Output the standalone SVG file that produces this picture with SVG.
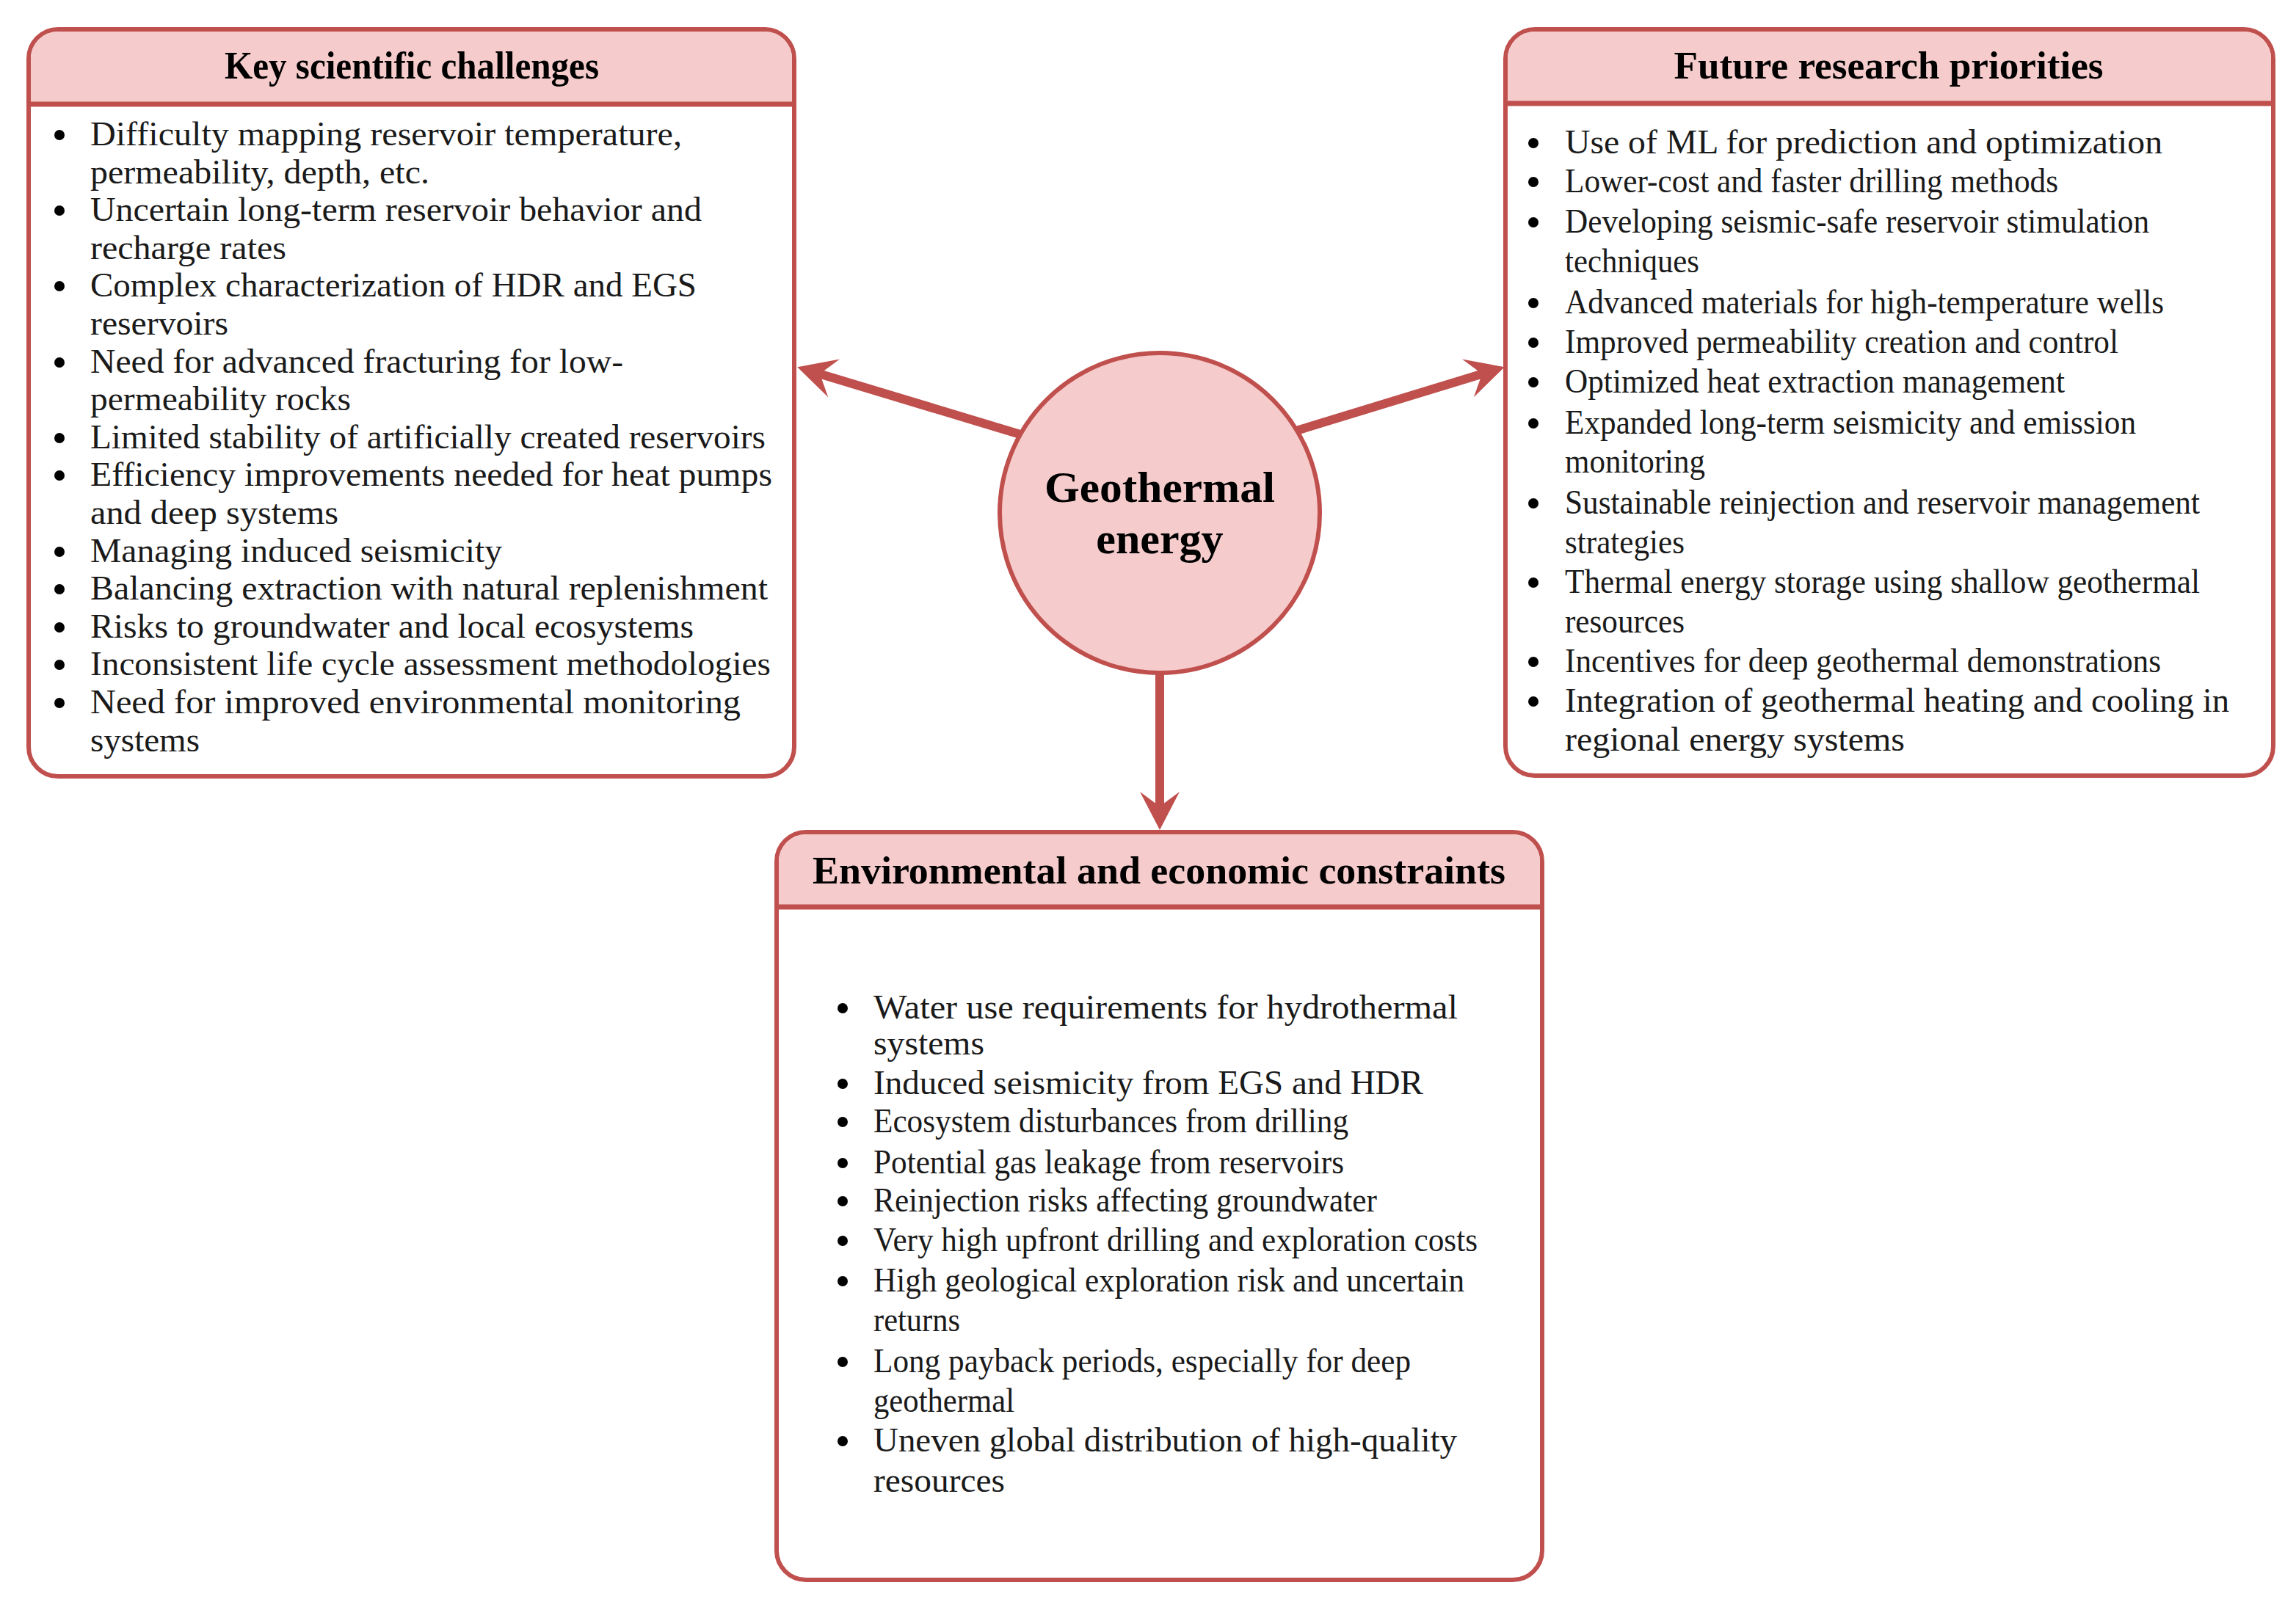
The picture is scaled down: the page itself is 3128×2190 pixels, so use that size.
<svg xmlns="http://www.w3.org/2000/svg" width="3128" height="2190" viewBox="0 0 3128 2190">
<style>
.frame{fill:#FFFFFF;stroke:#C0504D;stroke-width:6}
.head{fill:#F5CBCB;stroke:none}
.sep{stroke:#C0504D;stroke-width:7}
.title{font-family:"Liberation Serif","Times New Roman",serif;font-weight:bold;font-size:52px;fill:#000;text-anchor:middle}
.item{font-family:"Liberation Serif","Times New Roman",serif;font-size:46px;fill:#1a1a1a}
.dot{fill:#000}
.hub{fill:#F5CBCB;stroke:#C0504D;stroke-width:6}
.hubtext{font-family:"Liberation Serif","Times New Roman",serif;font-weight:bold;font-size:60px;fill:#000;text-anchor:middle}
.conn{stroke:#C0504D;stroke-width:12;fill:none;marker-end:url(#ah)}
</style>
<defs>
<marker id="ah" markerUnits="userSpaceOnUse" markerWidth="60" markerHeight="60" viewBox="0 -30 56 60" refX="22" refY="0" orient="auto">
<path d="M52,0 L0,-27 L20,0 L0,27 Z" fill="#C0504D"/>
</marker>
</defs>
<rect width="3128" height="2190" fill="#FFFFFF"/>

<g id="node-key-challenges">
<rect class="frame" x="39" y="40" width="1043" height="1018" rx="40"/>
<path class="head" d="M42,142 L42,80 A37,37 0 0 1 79,43 L1042,43 A37,37 0 0 1 1079,80 L1079,142 Z"/>
<line class="sep" x1="39" y1="142" x2="1082" y2="142"/>
<text class="title" x="561" y="107" textLength="510" lengthAdjust="spacingAndGlyphs">Key scientific challenges</text>
<circle class="dot" cx="81" cy="184" r="7"/>
<text class="item" x="123" y="198" textLength="806" lengthAdjust="spacingAndGlyphs">Difficulty mapping reservoir temperature,</text>
<text class="item" x="123" y="250" textLength="462" lengthAdjust="spacingAndGlyphs">permeability, depth, etc.</text>
<circle class="dot" cx="81" cy="287" r="7"/>
<text class="item" x="123" y="301" textLength="833" lengthAdjust="spacingAndGlyphs">Uncertain long-term reservoir behavior and</text>
<text class="item" x="123" y="353" textLength="267" lengthAdjust="spacingAndGlyphs">recharge rates</text>
<circle class="dot" cx="81" cy="390" r="7"/>
<text class="item" x="123" y="404" textLength="826" lengthAdjust="spacingAndGlyphs">Complex characterization of HDR and EGS</text>
<text class="item" x="123" y="456" textLength="188" lengthAdjust="spacingAndGlyphs">reservoirs</text>
<circle class="dot" cx="81" cy="494" r="7"/>
<text class="item" x="123" y="508" textLength="726" lengthAdjust="spacingAndGlyphs">Need for advanced fracturing for low-</text>
<text class="item" x="123" y="559" textLength="355" lengthAdjust="spacingAndGlyphs">permeability rocks</text>
<circle class="dot" cx="81" cy="597" r="7"/>
<text class="item" x="123" y="611" textLength="920" lengthAdjust="spacingAndGlyphs">Limited stability of artificially created reservoirs</text>
<circle class="dot" cx="81" cy="648" r="7"/>
<text class="item" x="123" y="662" textLength="929" lengthAdjust="spacingAndGlyphs">Efficiency improvements needed for heat pumps</text>
<text class="item" x="123" y="714" textLength="338" lengthAdjust="spacingAndGlyphs">and deep systems</text>
<circle class="dot" cx="81" cy="752" r="7"/>
<text class="item" x="123" y="766" textLength="561" lengthAdjust="spacingAndGlyphs">Managing induced seismicity</text>
<circle class="dot" cx="81" cy="803" r="7"/>
<text class="item" x="123" y="817" textLength="923" lengthAdjust="spacingAndGlyphs">Balancing extraction with natural replenishment</text>
<circle class="dot" cx="81" cy="855" r="7"/>
<text class="item" x="123" y="869" textLength="822" lengthAdjust="spacingAndGlyphs">Risks to groundwater and local ecosystems</text>
<circle class="dot" cx="81" cy="906" r="7"/>
<text class="item" x="123" y="920" textLength="927" lengthAdjust="spacingAndGlyphs">Inconsistent life cycle assessment methodologies</text>
<circle class="dot" cx="81" cy="958" r="7"/>
<text class="item" x="123" y="972" textLength="886" lengthAdjust="spacingAndGlyphs">Need for improved environmental monitoring</text>
<text class="item" x="123" y="1024" textLength="149" lengthAdjust="spacingAndGlyphs">systems</text>
</g>

<g id="node-future-priorities">
<rect class="frame" x="2051" y="40" width="1046" height="1017" rx="40"/>
<path class="head" d="M2054,141 L2054,80 A37,37 0 0 1 2091,43 L3057,43 A37,37 0 0 1 3094,80 L3094,141 Z"/>
<line class="sep" x1="2051" y1="141" x2="3097" y2="141"/>
<text class="title" x="2573" y="107" textLength="585" lengthAdjust="spacingAndGlyphs">Future research priorities</text>
<circle class="dot" cx="2089" cy="195" r="7"/>
<text class="item" x="2132" y="209" textLength="814" lengthAdjust="spacingAndGlyphs">Use of ML for prediction and optimization</text>
<circle class="dot" cx="2089" cy="248" r="7"/>
<text class="item" x="2132" y="262" textLength="672" lengthAdjust="spacingAndGlyphs">Lower-cost and faster drilling methods</text>
<circle class="dot" cx="2089" cy="303" r="7"/>
<text class="item" x="2132" y="317" textLength="796" lengthAdjust="spacingAndGlyphs">Developing seismic-safe reservoir stimulation</text>
<text class="item" x="2132" y="371" textLength="183" lengthAdjust="spacingAndGlyphs">techniques</text>
<circle class="dot" cx="2089" cy="413" r="7"/>
<text class="item" x="2132" y="427" textLength="816" lengthAdjust="spacingAndGlyphs">Advanced materials for high-temperature wells</text>
<circle class="dot" cx="2089" cy="467" r="7"/>
<text class="item" x="2132" y="481" textLength="754" lengthAdjust="spacingAndGlyphs">Improved permeability creation and control</text>
<circle class="dot" cx="2089" cy="521" r="7"/>
<text class="item" x="2132" y="535" textLength="681" lengthAdjust="spacingAndGlyphs">Optimized heat extraction management</text>
<circle class="dot" cx="2089" cy="577" r="7"/>
<text class="item" x="2132" y="591" textLength="778" lengthAdjust="spacingAndGlyphs">Expanded long-term seismicity and emission</text>
<text class="item" x="2132" y="644" textLength="191" lengthAdjust="spacingAndGlyphs">monitoring</text>
<circle class="dot" cx="2089" cy="686" r="7"/>
<text class="item" x="2132" y="700" textLength="865" lengthAdjust="spacingAndGlyphs">Sustainable reinjection and reservoir management</text>
<text class="item" x="2132" y="754" textLength="163" lengthAdjust="spacingAndGlyphs">strategies</text>
<circle class="dot" cx="2089" cy="794" r="7"/>
<text class="item" x="2132" y="808" textLength="865" lengthAdjust="spacingAndGlyphs">Thermal energy storage using shallow geothermal</text>
<text class="item" x="2132" y="862" textLength="163" lengthAdjust="spacingAndGlyphs">resources</text>
<circle class="dot" cx="2089" cy="902" r="7"/>
<text class="item" x="2132" y="916" textLength="812" lengthAdjust="spacingAndGlyphs">Incentives for deep geothermal demonstrations</text>
<circle class="dot" cx="2089" cy="956" r="7"/>
<text class="item" x="2132" y="970" textLength="905" lengthAdjust="spacingAndGlyphs">Integration of geothermal heating and cooling in</text>
<text class="item" x="2132" y="1023" textLength="463" lengthAdjust="spacingAndGlyphs">regional energy systems</text>
</g>

<g id="node-env-econ">
<rect class="frame" x="1058" y="1134" width="1043" height="1019" rx="40"/>
<path class="head" d="M1061,1236 L1061,1174 A37,37 0 0 1 1098,1137 L2061,1137 A37,37 0 0 1 2098,1174 L2098,1236 Z"/>
<line class="sep" x1="1058" y1="1236" x2="2101" y2="1236"/>
<text class="title" x="1579" y="1204" textLength="944" lengthAdjust="spacingAndGlyphs">Environmental and economic constraints</text>
<circle class="dot" cx="1148" cy="1374" r="7"/>
<text class="item" x="1190" y="1388" textLength="796" lengthAdjust="spacingAndGlyphs">Water use requirements for hydrothermal</text>
<text class="item" x="1190" y="1437" textLength="151" lengthAdjust="spacingAndGlyphs">systems</text>
<circle class="dot" cx="1148" cy="1477" r="7"/>
<text class="item" x="1190" y="1491" textLength="749" lengthAdjust="spacingAndGlyphs">Induced seismicity from EGS and HDR</text>
<circle class="dot" cx="1148" cy="1529" r="7"/>
<text class="item" x="1190" y="1543" textLength="647" lengthAdjust="spacingAndGlyphs">Ecosystem disturbances from drilling</text>
<circle class="dot" cx="1148" cy="1585" r="7"/>
<text class="item" x="1190" y="1599" textLength="641" lengthAdjust="spacingAndGlyphs">Potential gas leakage from reservoirs</text>
<circle class="dot" cx="1148" cy="1637" r="7"/>
<text class="item" x="1190" y="1651" textLength="686" lengthAdjust="spacingAndGlyphs">Reinjection risks affecting groundwater</text>
<circle class="dot" cx="1148" cy="1691" r="7"/>
<text class="item" x="1190" y="1705" textLength="823" lengthAdjust="spacingAndGlyphs">Very high upfront drilling and exploration costs</text>
<circle class="dot" cx="1148" cy="1746" r="7"/>
<text class="item" x="1190" y="1760" textLength="805" lengthAdjust="spacingAndGlyphs">High geological exploration risk and uncertain</text>
<text class="item" x="1190" y="1814" textLength="118" lengthAdjust="spacingAndGlyphs">returns</text>
<circle class="dot" cx="1148" cy="1856" r="7"/>
<text class="item" x="1190" y="1870" textLength="732" lengthAdjust="spacingAndGlyphs">Long payback periods, especially for deep</text>
<text class="item" x="1190" y="1924" textLength="192" lengthAdjust="spacingAndGlyphs">geothermal</text>
<circle class="dot" cx="1148" cy="1964" r="7"/>
<text class="item" x="1190" y="1978" textLength="795" lengthAdjust="spacingAndGlyphs">Uneven global distribution of high-quality</text>
<text class="item" x="1190" y="2033" textLength="179" lengthAdjust="spacingAndGlyphs">resources</text>
</g>

<g id="connectors">
<line class="conn" x1="1390" y1="592" x2="1115" y2="509"/>
<line class="conn" x1="1766" y1="587" x2="2021" y2="509"/>
<line class="conn" x1="1580" y1="917" x2="1580" y2="1101"/>
</g>

<g id="node-geothermal">
<circle class="hub" cx="1580" cy="699" r="218"/>
<text class="hubtext" x="1580" y="684" textLength="314" lengthAdjust="spacingAndGlyphs">Geothermal</text>
<text class="hubtext" x="1580" y="754">energy</text>
</g>
</svg>
